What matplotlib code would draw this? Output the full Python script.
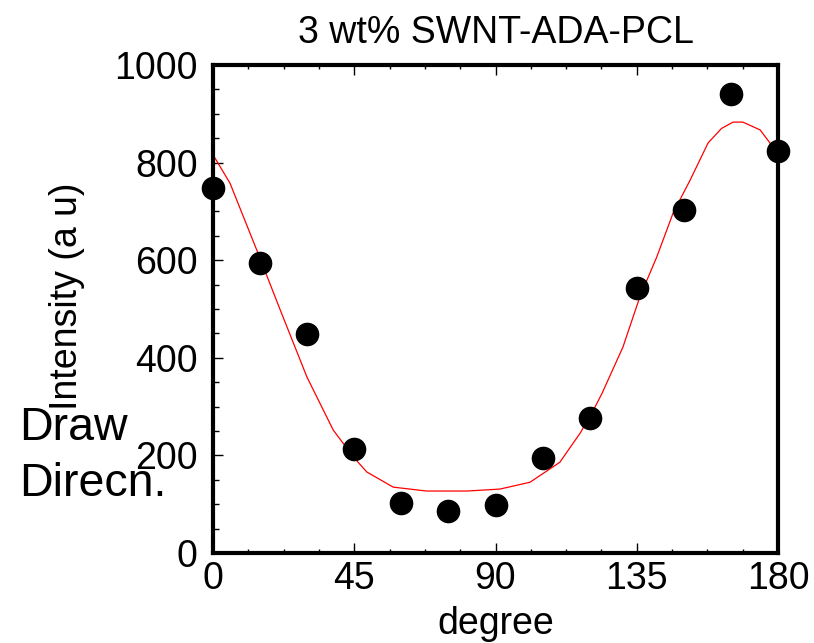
import matplotlib
matplotlib.use("Agg")
import matplotlib.pyplot as plt
from matplotlib.ticker import MultipleLocator

plt.rcParams["font.family"] = ["Liberation Sans", "DejaVu Sans"]

# measured points
angle = [0, 15, 30, 45, 60, 75, 90, 105, 120, 135, 150, 165, 180]
intensity = [748, 594, 449, 213, 102, 86, 98, 195, 277, 543, 703, 941, 824]

# fitted curve
fit_angle = [0, 5.4, 14.3, 21.3, 29.9, 38.3, 44.7, 49, 57.4, 68, 81, 91.4, 101,
             110.5, 117, 121.7, 124, 130.6, 136, 141.4, 146.6, 152, 157.7, 162,
             165.7, 168.8, 174.3, 178.4, 180]
fit_intensity = [816, 758, 615, 500, 361, 252, 197, 166, 135, 127, 127, 131, 145,
                 186, 246, 299, 328, 422, 525, 607, 697, 764, 840, 870,
                 883, 883, 867, 832, 815]

x_ticks = [0, 45, 90, 135, 180]
y_ticks = [0, 200, 400, 600, 800, 1000]

fig = plt.figure(figsize=(8.14, 6.43), dpi=100)
ax = fig.add_axes([213 / 814, 90 / 643, 565 / 814, 488 / 643])

ax.plot(fit_angle, fit_intensity, color="red", lw=0.9)
ax.plot(angle, intensity, "o", color="black", ms=16, clip_on=False, zorder=5)

ax.set_xlim(0, 180)
ax.set_ylim(0, 1000)
ax.set_xticks(x_ticks)
ax.set_yticks(y_ticks)
ax.xaxis.set_minor_locator(MultipleLocator(11.25))
ax.yaxis.set_minor_locator(MultipleLocator(50))

for s in ax.spines.values():
    s.set_linewidth(3)

ax.tick_params(which="both", direction="in", top=True, right=False, labelsize=27)
ax.tick_params(axis="x", which="major", length=7, width=1, pad=6)
ax.tick_params(axis="x", which="minor", length=3, width=1)
ax.tick_params(axis="y", which="major", length=7, width=1, pad=11)
ax.tick_params(axis="y", which="minor", length=4, width=1)

ax.set_title("3 wt% SWNT-ADA-PCL", fontsize=27, pad=16)
ax.set_xlabel("degree", fontsize=27, labelpad=6)
fig.text(67 / 814, 1 - 296 / 643, "Intensity (a u)", rotation=90, fontsize=27,
         ha="center", va="center")

fig.text(19 / 814, 1 - 440 / 643, "Draw", fontsize=33.5, ha="left", va="baseline")
fig.text(19 / 814, 1 - 496 / 643, "Direcn.", fontsize=33.5, ha="left", va="baseline")

fig.savefig("out.png", dpi=100)
